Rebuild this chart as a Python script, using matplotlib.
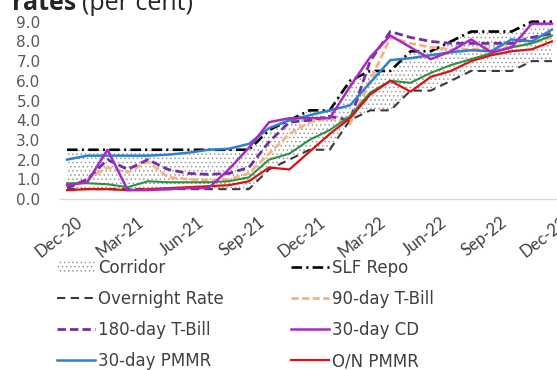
import matplotlib
matplotlib.use("Agg")
import matplotlib.pyplot as plt
from matplotlib.transforms import ScaledTranslation

# Monthly observations, Dec-20 .. Dec-22
months = ["Dec-20", "Jan-21", "Feb-21", "Mar-21", "Apr-21", "May-21", "Jun-21",
          "Jul-21", "Aug-21", "Sep-21", "Oct-21", "Nov-21", "Dec-21", "Jan-22",
          "Feb-22", "Mar-22", "Apr-22", "May-22", "Jun-22", "Jul-22", "Aug-22",
          "Sep-22", "Oct-22", "Nov-22", "Dec-22"]
tick_labels = ["Dec-20", "Mar-21", "Jun-21", "Sep-21", "Dec-21",
               "Mar-22", "Jun-22", "Sep-22", "Dec-22"]

overnight = [0.5, 0.5, 0.5, 0.5, 0.5, 0.5, 0.5, 0.5, 0.5, 0.5, 1.5, 2.0, 2.5,
             2.5, 4.0, 4.5, 4.5, 5.5, 5.5, 6.0, 6.5, 6.5, 6.5, 7.0, 7.0]
slf_repo = [2.5, 2.5, 2.5, 2.5, 2.5, 2.5, 2.5, 2.5, 2.5, 2.5, 3.5, 4.0, 4.5,
            4.5, 6.0, 6.5, 6.5, 7.5, 7.5, 8.0, 8.5, 8.5, 8.5, 9.0, 9.0]
tbill_90 = [0.6, 1.0, 1.6, 1.35, 1.9, 1.1, 1.0, 0.95, 1.0, 1.3, 2.3, 3.3, 3.9,
            4.1, 3.8, 6.0, 8.2, 7.9, 7.7, 7.6, 7.6, 7.65, 7.7, 7.9, 8.2]
tbill_180 = [0.55, 1.0, 2.0, 1.5, 2.0, 1.5, 1.3, 1.25, 1.3, 1.6, 2.9, 3.9, 4.0,
             4.2, 4.0, 7.0, 8.5, 8.2, 8.0, 7.9, 7.9, 7.9, 7.9, 8.2, 8.4]
cd_30 = [0.7, 0.85, 2.5, 0.45, 0.45, 0.5, 0.55, 0.55, 1.5, 2.6, 3.9, 4.1, 4.1,
         4.1, 5.7, 7.2, 8.3, 7.7, 7.1, 7.5, 8.1, 7.45, 7.7, 8.9, 8.9]
pmmr_30 = [2.0, 2.2, 2.2, 2.2, 2.2, 2.25, 2.35, 2.5, 2.55, 2.8, 3.6, 4.0, 4.25,
           4.5, 4.75, 5.9, 7.05, 7.15, 7.3, 7.45, 7.55, 7.5, 8.1, 8.0, 8.6]
pmmr_on = [0.45, 0.5, 0.5, 0.45, 0.5, 0.55, 0.6, 0.65, 0.7, 0.9, 1.6, 1.5, 2.4,
           3.3, 4.1, 5.3, 6.0, 5.45, 6.2, 6.5, 7.0, 7.3, 7.5, 7.6, 8.0]
pmmr_other = [0.8, 0.8, 0.75, 0.6, 0.9, 0.85, 0.85, 0.85, 0.9, 1.1, 2.0, 2.3, 3.0,
              3.5, 4.2, 5.4, 6.0, 5.9, 6.4, 6.8, 7.1, 7.4, 7.7, 7.9, 8.3]

plt.rcParams["hatch.linewidth"] = 0.6

W, H = 557, 370
fig = plt.figure(figsize=(W / 100, H / 100), dpi=100)
ax = fig.add_axes([60 / W, (H - 199) / H, 496 / W, 183.2 / H])

x = list(range(len(months)))

ax.fill_between(x, overnight, slf_repo, facecolor="white", edgecolor="#9a9a9a",
                hatch="....", linewidth=0, label="Corridor", zorder=1)
ax.plot(x, overnight, color="#3a3a3a", lw=1.5, dashes=(4, 2.6),
        label="Overnight Rate", zorder=2)
ax.plot(x, slf_repo, color="black", lw=1.9, dashes=(4, 1.6, 0.8, 1.6),
        label="SLF Repo", zorder=2)
ax.plot(x, tbill_90, color="#F7B183", lw=2.0, dashes=(2.6, 1.2),
        label="90-day T-Bill", zorder=3)
ax.plot(x, tbill_180, color="#7030A0", lw=2.0, dashes=(3, 1.5),
        label="180-day T-Bill", zorder=3)
ax.plot(x, pmmr_other, color="#2E9142", lw=1.5, zorder=3)
ax.plot(x, pmmr_on, color="#E01010", lw=1.6, label="O/N PMMR", zorder=4)
ax.plot(x, pmmr_30, color="#2F80D0", lw=1.8, label="30-day PMMR", zorder=4)
ax.plot(x, cd_30, color="#A52BC8", lw=1.8, label="30-day CD", zorder=5)

ax.set_xlim(-0.35, 24.2)
ax.set_ylim(0, 9.3)

for side in ("top", "right", "left"):
    ax.spines[side].set_visible(False)
ax.spines["bottom"].set_color("#d9d9d9")
ax.spines["bottom"].set_linewidth(1.0)

ax.set_yticks(range(10))
ax.set_yticklabels([f"{v:.1f}" for v in range(10)], fontsize=11,
                   color="#595959", family="DejaVu Sans")
ax.set_xticks(range(0, 25, 3))
ax.set_xticklabels(tick_labels, rotation=38, ha="right", va="top",
                   rotation_mode="anchor", fontsize=12, color="#404040",
                   family="Lato")
ax.tick_params(axis="both", length=0)
ax.tick_params(axis="y", pad=14)
ax.tick_params(axis="x", pad=11)
shift = ScaledTranslation(9 / 100, 0, fig.dpi_scale_trans)
for lab in ax.get_xticklabels():
    lab.set_transform(lab.get_transform() + shift)

# legend, two columns filled top to bottom
h, l = ax.get_legend_handles_labels()
lookup = dict(zip(l, h))
order = ["Corridor", "Overnight Rate", "180-day T-Bill", "30-day PMMR",
         "SLF Repo", "90-day T-Bill", "30-day CD", "O/N PMMR"]
leg = fig.legend([lookup[k] for k in order], order, ncol=2, loc="upper left",
                 bbox_to_anchor=(57 / W, 1 - 259 / H), frameon=False,
                 prop={"family": "DejaVu Sans", "size": 12},
                 handlelength=2.3, handletextpad=0.18, columnspacing=4.0,
                 labelspacing=0.78, borderpad=0, borderaxespad=0)
for t in leg.get_texts():
    t.set_color("#404040")

# heading, partly above the top edge
renderer = fig.canvas.get_renderer()
t1 = fig.text(12 / W, 1 - 9.5 / H, "rates", fontsize=18, fontweight="bold",
              family="Open Sans", color="#262626", va="baseline")
bb = t1.get_window_extent(renderer)
fig.text(bb.x1 / W + 6 / W, 1 - 9.5 / H, "(per cent)", fontsize=18,
         family="Open Sans", color="#262626", va="baseline")

fig.savefig("out.png", dpi=100)
